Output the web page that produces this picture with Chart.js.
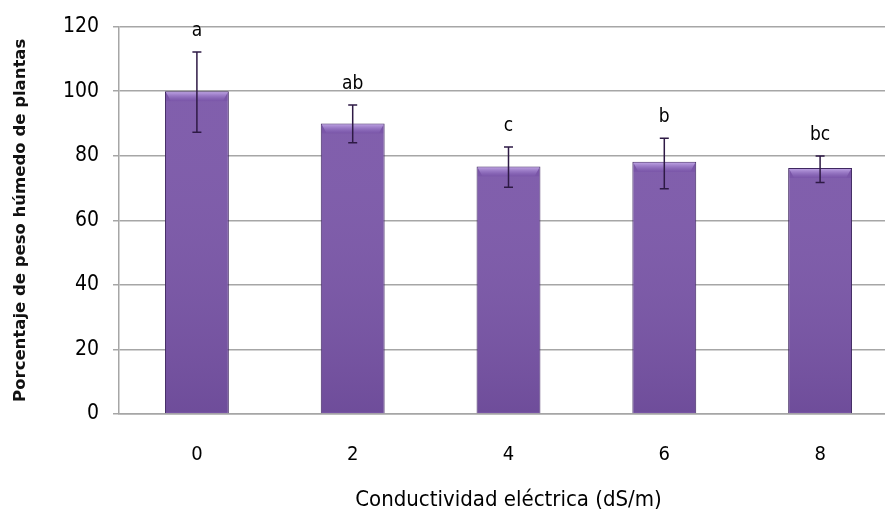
<!DOCTYPE html>
<html>
<head>
<meta charset="utf-8">
<script src="https://cdn.jsdelivr.net/npm/chart.js@4/dist/chart.umd.min.js"></script>
<style>
  html, body { margin: 0; padding: 0; background: #ffffff; overflow: hidden; }
  #wrap { width: 885px; height: 513px; position: relative; overflow: hidden; }
  #c { position: absolute; left: 0; top: 0; }
</style>
</head>
<body>
<div id="wrap"><canvas id="c" width="899" height="513"></canvas></div>
<script>
// Conductividad eléctrica (dS/m)
const categories = ['0', '2', '4', '6', '8'];
// Porcentaje medio de peso húmedo
const means = [100, 90, 76.7, 78.1, 76.2];
// Extremos de las barras de error
const errUpper = [112.1, 95.7, 82.7, 85.4, 79.9];
const errLower = [87.3, 84.0, 70.2, 69.8, 71.7];
// Letras de significancia
const groupLetters = ['a', 'ab', 'c', 'b', 'bc'];
const yTicks = [0, 20, 40, 60, 80, 100, 120];

const narrow = "'Liberation Sans Narrow', 'DejaVu Sans Condensed', sans-serif";

function barFill(context) {
  const chart = context.chart;
  const el = context.element;
  if (!chart.chartArea || !el || el.width === undefined) return '#7a56a8';
  const ctx = chart.ctx;
  const left = el.x - el.width / 2, right = el.x + el.width / 2;
  const g = ctx.createLinearGradient(left, 0, right, 0);
  g.addColorStop(0, '#44295f');
  g.addColorStop(0.06, '#694795');
  g.addColorStop(0.5, '#7b57aa');
  g.addColorStop(0.94, '#694795');
  g.addColorStop(1, '#44295f');
  return g;
}

// Relieve superior de la barra, barras de error y letras
const barExtras = {
  id: 'barExtras',
  afterDatasetsDraw(chart) {
    const ctx = chart.ctx;
    const meta = chart.getDatasetMeta(0);
    const y = chart.scales.y;
    meta.data.forEach((bar, i) => {
      const left = bar.x - bar.width / 2, right = bar.x + bar.width / 2;
      const top = bar.y;
      // brillo superior
      ctx.save();
      const hg = ctx.createLinearGradient(0, top, 0, top + 10);
      hg.addColorStop(0, 'rgba(205,180,240,0.9)');
      hg.addColorStop(1, 'rgba(160,130,210,0)');
      ctx.fillStyle = hg;
      ctx.beginPath();
      ctx.moveTo(left + 1, top + 1);
      ctx.lineTo(right - 1, top + 1);
      ctx.lineTo(right - 6, top + 10);
      ctx.lineTo(left + 6, top + 10);
      ctx.closePath();
      ctx.fill();
      // oscurecimiento hacia la base
      const vg = ctx.createLinearGradient(0, top, 0, bar.base);
      vg.addColorStop(0, 'rgba(255,255,255,0.05)');
      vg.addColorStop(1, 'rgba(40,20,70,0.14)');
      ctx.fillStyle = vg;
      ctx.fillRect(left + 1, top + 10, bar.width - 2, bar.base - top - 11);
      ctx.restore();

      // barra de error
      const yHi = y.getPixelForValue(errUpper[i]);
      const yLo = y.getPixelForValue(errLower[i]);
      ctx.save();
      ctx.strokeStyle = '#2e1a45';
      ctx.lineWidth = 1.5;
      ctx.beginPath();
      ctx.moveTo(bar.x, yHi); ctx.lineTo(bar.x, yLo);
      ctx.moveTo(bar.x - 4.5, yHi); ctx.lineTo(bar.x + 4.5, yHi);
      ctx.moveTo(bar.x - 4.5, yLo); ctx.lineTo(bar.x + 4.5, yLo);
      ctx.stroke();
      ctx.restore();

      // letra
      ctx.save();
      ctx.fillStyle = '#000000';
      ctx.font = '19px ' + narrow;
      ctx.textAlign = 'center';
      ctx.textBaseline = 'middle';
      ctx.fillText(groupLetters[i], bar.x, yHi - 21);
      ctx.restore();
    });
  }
};

new Chart(document.getElementById('c'), {
  type: 'bar',
  data: {
    labels: categories,
    datasets: [{
      data: means,
      backgroundColor: barFill,
      borderColor: '#3f2760',
      borderWidth: 1,
      barPercentage: 0.41,
      categoryPercentage: 1.0
    }]
  },
  options: {
    responsive: false,
    animation: false,
    layout: { padding: { top: 16, right: 1, left: 0, bottom: 0 } },
    plugins: {
      legend: { display: false },
      tooltip: { enabled: false }
    },
    scales: {
      x: {
        grid: { display: false, drawTicks: false },
        border: { display: true, color: '#a6a6a6', width: 1.5 },
        ticks: {
          padding: 29,
          color: '#000000',
          font: { family: narrow, size: 20 }
        },
        title: {
          display: true,
          text: 'Conductividad eléctrica (dS/m)',
          color: '#000000',
          font: { family: narrow, size: 22 },
          padding: { top: 16, bottom: 0 }
        },
        afterFit(scale) { scale.height = 99; }
      },
      y: {
        min: 0,
        max: 120,
        afterBuildTicks(scale) { scale.ticks = yTicks.map(v => ({ value: v })); },
        grid: { color: '#a6a6a6', lineWidth: 1.5, tickLength: 6 },
        border: { display: true, color: '#a6a6a6', width: 1.5 },
        ticks: {
          padding: 14,
          color: '#000000',
          font: { family: narrow, size: 21 }
        },
        title: {
          display: true,
          text: 'Porcentaje de peso húmedo de plantas',
          color: '#111111',
          font: { family: "'DejaVu Sans', sans-serif", size: 16.5, weight: 'bold' },
          padding: { top: 11, bottom: 0 }
        },
        afterFit(scale) { scale.width = 119; }
      }
    }
  },
  plugins: [barExtras]
});
</script>
</body>
</html>
